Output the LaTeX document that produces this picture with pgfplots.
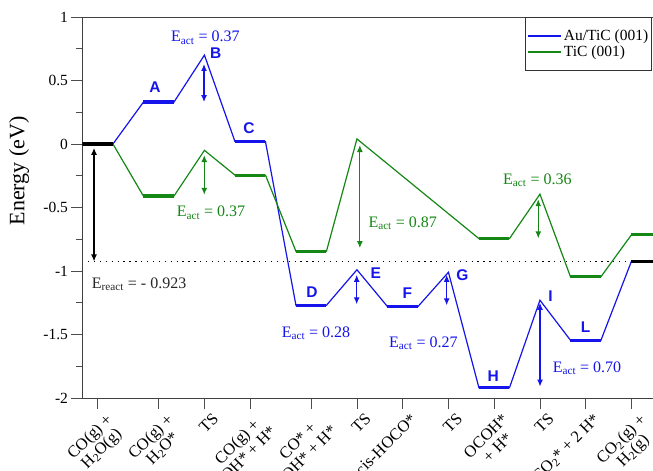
\documentclass[border=0pt]{standalone}
\usepackage{pgfplots}
\pgfplotsset{compat=1.18}
\usepackage{fontspec}
\setmainfont{Liberation Serif}
\newfontfamily\sansb{Liberation Sans}
\usetikzlibrary{arrows.meta}
\definecolor{cblue}{RGB}{20,20,235}
\definecolor{cgreen}{RGB}{20,135,20}
\tikzset{
  dbl/.style={{Latex[length=7pt,width=6pt]}-{Latex[length=7pt,width=6pt]}, line width=1.3pt},
  eact/.style={font=\fontsize{16}{18}\selectfont, inner sep=0pt, anchor=base west},
  lett/.style={font=\sansb\bfseries\fontsize{15.5}{16}\selectfont, text=cblue, inner sep=0pt},
}
\begin{document}
\begin{tikzpicture}
\begin{axis}[
  name=ax, scale only axis, width=575.5pt, height=381pt,
  xmin=0.6667, xmax=13.246, ymin=-2, ymax=1,
  xtick={1,2.3333,3.3333,4.3333,5.6667,6.6667,7.6667,8.6667,9.6667,10.6667,11.6667,12.6667},
  xticklabels={{CO(g) +\\H\textsubscript{2}O(g)},{CO(g) +\\H\textsubscript{2}O*},TS,{CO(g) +\\OH* + H*},{CO* +\\OH* + H*},TS,cis-HOCO*,TS,{OCOH*\\+ H*},TS,{CO\textsubscript{2}* + 2 H*},{CO\textsubscript{2}(g) +\\H\textsubscript{2}(g)}},
  ytick={-2,-1.5,-1,-0.5,0,0.5,1},
  yticklabels={-2,-1.5,-1,-0.5,0,0.5,1},
  minor y tick num=1,
  tick align=outside, xtick pos=bottom, ytick pos=left,
  major tick length=11pt, minor tick length=6pt,
  tick style={black!70, line width=0.8pt},
  axis line style={black!75, line width=0.9pt},
  yticklabel style={font=\fontsize{15.5}{17}\selectfont},
  xticklabel style={rotate=45, anchor=north east, align=center, font=\fontsize{16.5}{16.5}\selectfont, xshift=6pt, yshift=-4pt},
  ylabel={Energy (eV)},
  ylabel style={at={(rel axis cs:-0.110,0.596)}, anchor=center, font=\fontsize{22}{24}\selectfont},
  legend style={at={(rel axis cs:0.769,1)}, anchor=north west, draw=black!80, line width=0.8pt,
    font=\fontsize{15.5}{17}\selectfont, inner xsep=1.5pt, inner ysep=10pt, row sep=0pt,
    cells={anchor=west}},
  legend image code/.code={\draw[#1, line width=2pt] (0pt,0pt) -- (33pt,0pt);},
]
% thin connecting lines
\addplot[cblue, line width=1.2pt] coordinates {
 (1.3333,0) (2,0.33) (2.6667,0.33) (3.3333,0.70) (4,0.02) (4.6667,0.02)
 (5.3333,-1.27) (6,-1.27) (6.6667,-0.99) (7.3333,-1.28) (8,-1.28) (8.6667,-1.01)
 (9.3333,-1.92) (10,-1.92) (10.6667,-1.23) (11.3333,-1.545) (12,-1.545) (12.6667,-0.923)};
\addlegendentry{Au/TiC (001)}
\addplot[cgreen, line width=1.2pt] coordinates {
 (1.3333,0) (2,-0.41) (2.6667,-0.41) (3.3333,-0.05) (4,-0.245) (4.6667,-0.245)
 (5.3333,-0.845) (6,-0.845) (6.6667,0.04) (9.3333,-0.745) (10,-0.745) (10.6667,-0.395)
 (11.3333,-1.045) (12,-1.045) (12.6667,-0.715) (13.3333,-0.715)};
\addlegendentry{TiC (001)}
% reaction energy reference
\addplot[black, line width=1.3pt, dash pattern=on 1.3pt off 4.6pt, forget plot] coordinates {(0.79,-0.923) (13.3,-0.923)};
% plateaus
\addplot[cblue, line width=3.2pt, unbounded coords=jump, forget plot] coordinates {
 (2,0.33) (2.6667,0.33) (3,nan) (4,0.02) (4.6667,0.02) (5,nan)
 (5.3333,-1.27) (6,-1.27) (6.5,nan) (7.3333,-1.28) (8,-1.28) (8.5,nan)
 (9.3333,-1.92) (10,-1.92) (10.5,nan) (11.3333,-1.545) (12,-1.545)};
\addplot[cgreen, line width=3.2pt, unbounded coords=jump, forget plot] coordinates {
 (2,-0.41) (2.6667,-0.41) (3,nan) (4,-0.245) (4.6667,-0.245) (5,nan)
 (5.3333,-0.845) (6,-0.845) (6.5,nan) (9.3333,-0.745) (10,-0.745) (10.5,nan)
 (11.3333,-1.045) (12,-1.045) (12.3,nan) (12.6667,-0.715) (13.3333,-0.715)};
\addplot[black, line width=3.2pt, unbounded coords=jump, forget plot] coordinates {
 (0.6667,0) (1.3333,0) (5,nan) (12.6667,-0.923) (13.3333,-0.923)};
% arrows
\draw[dbl, black] (axis cs:0.92,-0.03) -- (axis cs:0.92,-0.925);
\draw[dbl, cblue] (axis cs:3.324,0.63) -- (axis cs:3.324,0.33);
\draw[dbl, cblue] (axis cs:6.661,-1.03) -- (axis cs:6.661,-1.262);
\draw[dbl, cblue] (axis cs:8.628,-1.03) -- (axis cs:8.628,-1.27);
\draw[dbl, cblue] (axis cs:10.668,-1.25) -- (axis cs:10.668,-1.91);
\draw[dbl, cgreen] (axis cs:3.33,-0.087) -- (axis cs:3.33,-0.40);
\draw[dbl, cgreen] (axis cs:6.73,-0.008) -- (axis cs:6.73,-0.82);
\draw[dbl, cgreen] (axis cs:10.63,-0.435) -- (axis cs:10.63,-0.743);
% energy annotations
\node[eact, text=cblue] at (axis cs:2.602,0.805) {E\textsubscript{act} = 0.37};
\node[eact, text=cgreen] at (axis cs:2.727,-0.572) {E\textsubscript{act} = 0.37};
\node[eact, text=black!85] at (axis cs:0.869,-1.136) {E\textsubscript{react} = - 0.923};
\node[eact, text=cblue] at (axis cs:5.022,-1.522) {E\textsubscript{act} = 0.28};
\node[eact, text=cgreen] at (axis cs:6.915,-0.656) {E\textsubscript{act} = 0.87};
\node[eact, text=cgreen] at (axis cs:9.859,-0.315) {E\textsubscript{act} = 0.36};
\node[eact, text=cblue] at (axis cs:7.367,-1.601) {E\textsubscript{act} = 0.27};
\node[eact, text=cblue] at (axis cs:10.945,-1.798) {E\textsubscript{act} = 0.70};
% state letters
\node[lett] at (axis cs:2.252,0.45) {A};
\node[lett] at (axis cs:3.579,0.714) {B};
\node[lett] at (axis cs:4.307,0.128) {C};
\node[lett] at (axis cs:5.684,-1.163) {D};
\node[lett] at (axis cs:7.077,-1.018) {E};
\node[lett] at (axis cs:7.767,-1.176) {F};
\node[lett] at (axis cs:8.97,-1.031) {G};
\node[lett] at (axis cs:9.647,-1.832) {H};
\node[lett] at (axis cs:10.9,-1.202) {I};
\node[lett] at (axis cs:11.667,-1.439) {L};
\end{axis}
\pgfresetboundingbox
\useasboundingbox ([xshift=-82.45pt,yshift=-73pt]ax.south west) rectangle ([xshift=570.55pt,yshift=398pt]ax.south west);
\end{tikzpicture}
\end{document}
